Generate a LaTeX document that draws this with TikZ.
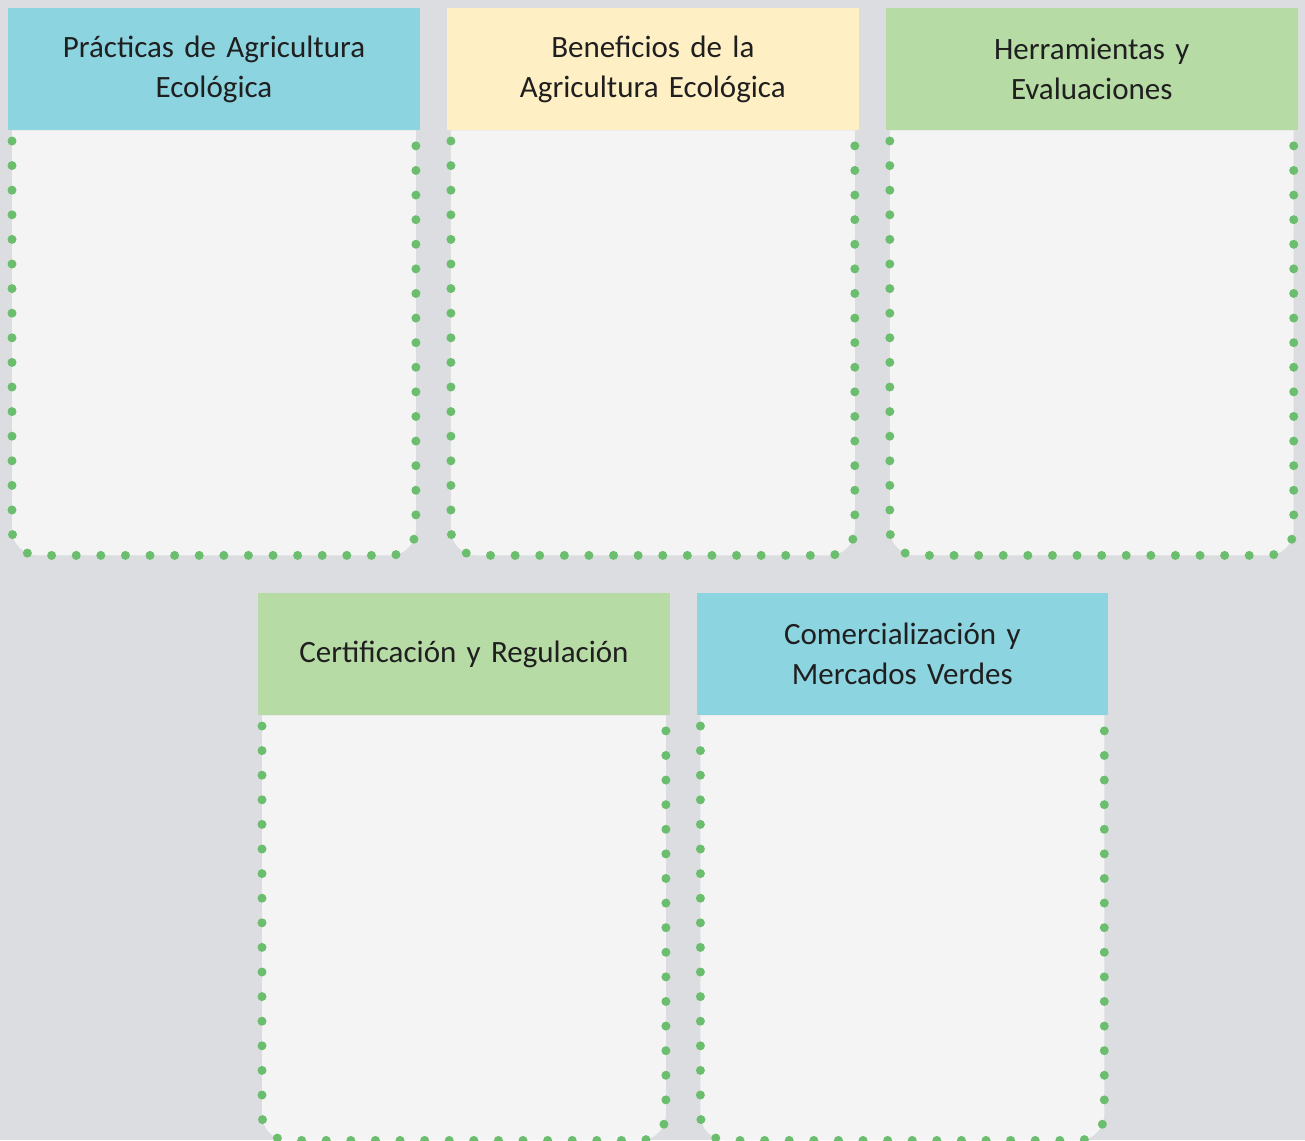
\documentclass[tikz,border=0pt]{standalone}
\usepackage{fontspec}
\setmainfont{Carlito}
\usetikzlibrary{positioning,calc,backgrounds}
\definecolor{cyanhead}{HTML}{8CD4E0}
\definecolor{creamhead}{HTML}{FFEFC4}
\definecolor{greenhead}{HTML}{B7DBA5}
\definecolor{dotgreen}{HTML}{6BBE6E}
\definecolor{paper}{HTML}{DCDDE0}
\definecolor{cardbody}{HTML}{F4F4F5}
\tikzset{
  head/.style={rectangle, minimum width=411.5pt, minimum height=122pt,
    inner sep=0pt, text width=395pt, align=center,
    font=\fontsize{31}{40}\selectfont, text=black!88},
  card/.style={fill=cardbody, draw=dotgreen, line width=9pt,
    line cap=round, dash pattern=on 0pt off 24.6pt, dash phase=14pt,
    rounded corners=26pt}
}
\begin{document}
\begin{tikzpicture}[x=1pt,y=-1pt]
  \useasboundingbox (0,0) rectangle (1305,1140);
  % headers
  \node[head, fill=cyanhead, anchor=north west] (prac) at (8,8)
    {Prácticas de Agricultura\\Ecológica};
  \node[head, fill=creamhead, right=27pt of prac] (bene)
    {Beneficios de la\\Agricultura Ecológica};
  \node[head, fill=greenhead, right=27pt of bene] (herr)
    {Herramientas y\\Evaluaciones};
  \node[head, fill=greenhead, anchor=north west] (cert) at (258,593)
    {Certificación y Regulación};
  \node[head, fill=cyanhead, right=26.5pt of cert] (come)
    {Comercialización y\\Mercados Verdes};
  % paper and dotted cards behind
  \begin{scope}[on background layer]
    \fill[paper] (0,0) rectangle (1305,1140);
    \foreach \h in {prac,bene,herr,cert,come}
      \draw[card] ($(\h.south west)+(4,0)$) -- ++(0,425)
        -- ($(\h.south east)+(-4,425)$) -- ($(\h.south east)+(-4,0)$);
  \end{scope}
\end{tikzpicture}
\end{document}
